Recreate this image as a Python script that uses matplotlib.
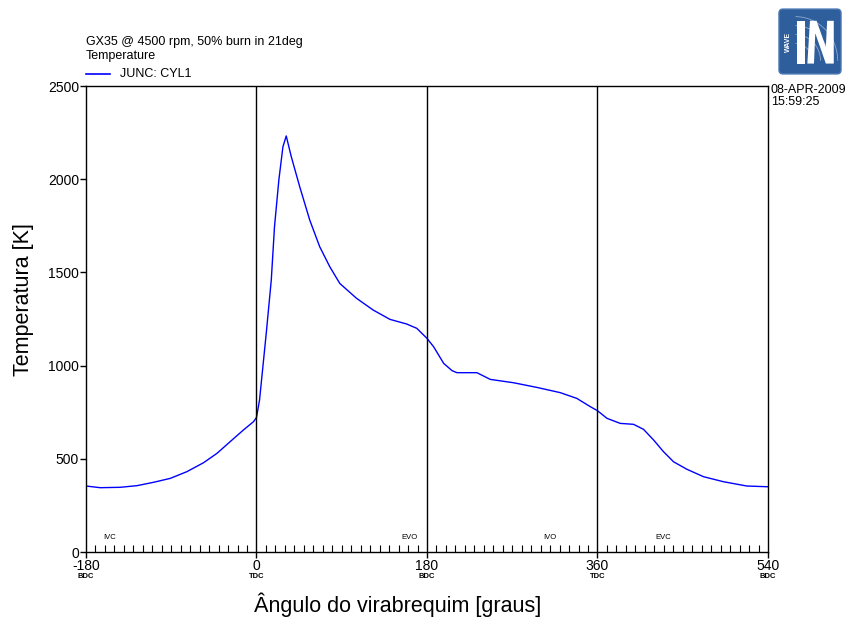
import matplotlib
matplotlib.use('Agg')
import matplotlib.pyplot as plt
from matplotlib.patches import FancyBboxPatch, Polygon, Arc
import numpy as np

plt.rcParams['font.family'] = ['Liberation Sans', 'DejaVu Sans']
plt.rcParams['axes.unicode_minus'] = False

# Cylinder temperature vs crank angle
angle = [-180, -165, -144, -126, -108.6, -91, -73.5, -55.9, -41.8, -27.8, -13.7, -3.2, 0,
         3.2, 10.3, 15.6, 19, 23.6, 27.9, 31.4, 36.7, 45.6, 56.2, 66.7, 77.3, 87.9,
         105.6, 123.2, 140.9, 158.6, 169.2, 180, 187, 197.6, 206.4, 211.6, 232.7,
         246.8, 271.4, 296, 320.6, 338.2, 352.3, 360, 370, 384, 398, 408.6, 419.2,
         429.7, 440.3, 454.3, 471.9, 493, 517.6, 540]
temp = [354, 345, 347, 356, 374, 395, 431, 479, 529, 592, 655, 699, 722,
        815, 1174, 1459, 1745, 1996, 2174, 2232, 2121, 1960, 1781, 1638, 1531, 1441,
        1361, 1298, 1248, 1223, 1200, 1146, 1101, 1012, 973, 962, 962,
        926, 908, 883, 855, 824, 780, 758, 717, 690, 685, 658, 601,
        538, 484, 444, 404, 377, 354, 350]

xticks = [-180, 0, 180, 360, 540]
xtick_sub = ['BDC', 'TDC', 'BDC', 'TDC', 'BDC']
valve_events = ['IVC', 'EVO', 'IVO', 'EVC']
valve_angles = [-155, 161, 310, 429]

fig = plt.figure(figsize=(8.54, 6.17), dpi=100)
ax = fig.add_axes([86/854, 1 - 552/617, 682/854, 466/617])

ax.plot(angle, temp, color='#0000ff', lw=1.0)
for a in [0, 180, 360]:
    ax.axvline(a, color='black', lw=1.0)

ax.set_xlim(-180, 540)
ax.set_ylim(0, 2500)
ax.set_xticks(xticks)
ax.set_xticks(np.arange(-170, 540, 10), minor=True)
ax.set_yticks(np.arange(0, 2501, 500))
ax.tick_params(axis='both', which='major', direction='out', length=4, width=1,
               labelsize=10, pad=1)
ax.tick_params(axis='x', which='minor', direction='in', length=5, width=0.8)
for sp in ax.spines.values():
    sp.set_linewidth(1.0)

xt = ax.get_xaxis_transform()
for a, s in zip(xticks, xtick_sub):
    ax.text(a, -0.052, s, transform=xt, ha='center', va='center', fontsize=5.5,
            fontweight='bold')
for a, s in zip(valve_angles, valve_events):
    ax.text(a, 0.032, s, transform=xt, ha='center', va='center', fontsize=5.5)

ax.set_ylabel('Temperatura [K]', fontsize=15.5, va='center')
ax.yaxis.set_label_coords(-86/682 + 24/682, 0.541)
ax.set_xlabel('Ângulo do virabrequim [graus]', fontsize=15.5, va='center')
ax.xaxis.set_label_coords(0.457, -53/466)

# header text and legend
fig.text(86/854, 1 - 42/617, 'GX35 @ 4500 rpm, 50% burn in 21deg', fontsize=9,
         va='center')
fig.text(86/854, 1 - 56/617, 'Temperature', fontsize=9, va='center')
fig.add_artist(plt.Line2D([86/854, 110/854], [1 - 74/617, 1 - 74/617],
                          color='#0000ff', lw=1.2))
fig.text(120/854, 1 - 74/617, 'JUNC: CYL1', fontsize=9, va='center')
fig.text(771/854, 1 - 96/617, '08-APR-2009\n15:59:25', fontsize=9, va='center',
         linespacing=1.1)

# logo
lg = fig.add_axes([777/854, 1 - 76/617, 66/854, 69/617])
lg.set_xlim(0, 1)
lg.set_ylim(0, 1)
lg.axis('off')
lg.add_patch(FancyBboxPatch((0.03, 0.03), 0.94, 0.94,
                            boxstyle='round,pad=0,rounding_size=0.06',
                            fc='#2f5e9c', ec='#4a78b4', lw=1))
for r in [0.25, 0.38, 0.51, 0.64]:
    lg.add_patch(Arc((0.28, 0.22), 2 * r, 2 * r, theta1=0, theta2=90,
                     color='#8fa9cf', lw=0.6))
lg.add_patch(Polygon([(0.30, 0.18), (0.42, 0.18), (0.42, 0.80), (0.30, 0.80)],
                     fc='white', ec='none'))
lg.add_patch(Polygon([(0.46, 0.18), (0.56, 0.18), (0.58, 0.62), (0.74, 0.18),
                      (0.86, 0.18), (0.86, 0.80), (0.76, 0.80), (0.74, 0.42),
                      (0.60, 0.80), (0.50, 0.80)],
                     fc='white', ec='none'))
lg.text(0.18, 0.49, 'WAVE', rotation=90, color='white', fontsize=5,
        fontweight='bold', ha='center', va='center')

fig.savefig('out.png', dpi=100)
